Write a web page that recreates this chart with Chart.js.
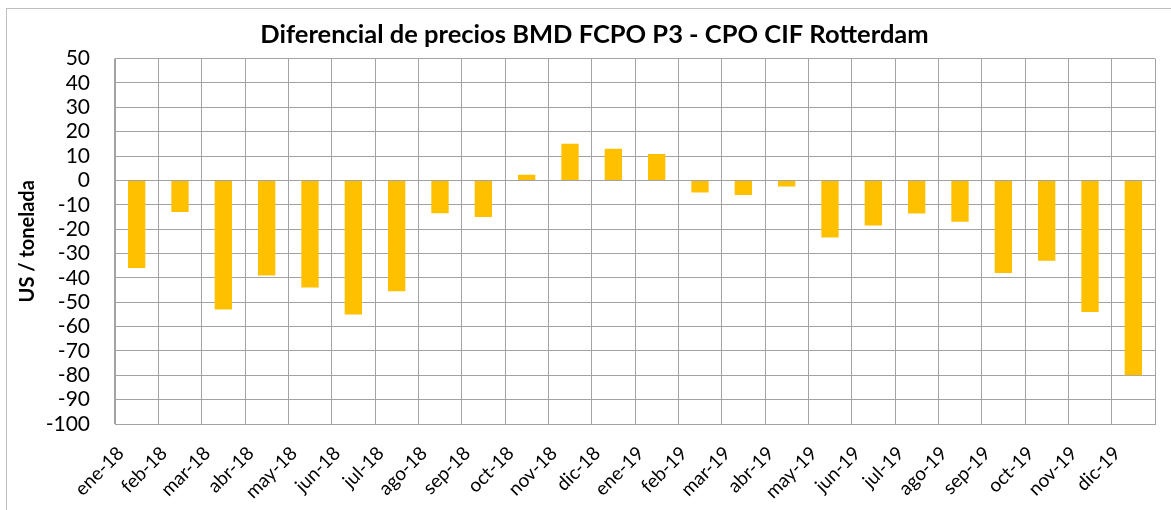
<!DOCTYPE html>
<html>
<head>
<meta charset="utf-8">
<script src="https://cdn.jsdelivr.net/npm/chart.js@4"></script>
<style>
  html, body { margin: 0; padding: 0; background: #fff; }
  #wrap { width: 1171px; height: 510px; }
</style>
</head>
<body>
<div id="wrap"><canvas id="diffChart" width="1171" height="510"></canvas></div>
<script>
const months = [
  'ene-18', 'feb-18', 'mar-18', 'abr-18', 'may-18', 'jun-18',
  'jul-18', 'ago-18', 'sep-18', 'oct-18', 'nov-18', 'dic-18',
  'ene-19', 'feb-19', 'mar-19', 'abr-19', 'may-19', 'jun-19',
  'jul-19', 'ago-19', 'sep-19', 'oct-19', 'nov-19', 'dic-19'
];
const differential = [
  -36, -13, -53, -39, -44, -55,
  -45.5, -13.5, -15, 2.3, 15, 13,
  10.8, -5, -6, -2.5, -23.4, -18.5,
  -13.6, -17, -38, -33, -54, -80
];
const yMin = -100;
const yMax = 50;
const yStep = 10;

// thin frame round the chart, like the Excel chart border
const framePlugin = {
  id: 'frame',
  beforeDraw(chart) {
    const ctx = chart.ctx;
    ctx.save();
    ctx.strokeStyle = '#bfbfbf';
    ctx.lineWidth = 1;
    ctx.strokeRect(6.5, 8.5, 1300, 700);
    ctx.restore();
  }
};

const gridColor = '#a3a3a3';

new Chart(document.getElementById('diffChart').getContext('2d'), {
  type: 'bar',
  data: {
    labels: months,
    datasets: [{
      label: 'Diferencial',
      data: differential,
      backgroundColor: '#FFC000',
      borderWidth: 0,
      barPercentage: 0.4,
      categoryPercentage: 1.0
    }]
  },
  options: {
    responsive: false,
    animation: false,
    // left padding larger so the title is centred like the original;
    // the y axis box is narrowed to keep the plot edge at the same place
    layout: { padding: { left: 34, right: 16, top: 0, bottom: 0 } },
    plugins: {
      legend: { display: false },
      tooltip: { enabled: false },
      title: {
        display: true,
        text: 'Diferencial de precios BMD FCPO P3 - CPO CIF Rotterdam',
        color: '#000',
        font: { family: 'Lato', size: 25.5, weight: 'bold', lineHeight: 1.2 },
        padding: { top: 19, bottom: 9 }
      }
    },
    scales: {
      x: {
        grid: { color: gridColor, lineWidth: 1, drawTicks: false, offset: true },
        border: { color: gridColor },
        ticks: {
          color: '#000',
          font: { family: 'Lato', size: 19 },
          maxRotation: 45,
          minRotation: 45,
          autoSkip: false,
          padding: 18,
          labelOffset: -16
        },
        afterFit(scale) { scale.height = 86; }
      },
      y: {
        min: yMin,
        max: yMax,
        grid: { color: gridColor, lineWidth: 1, drawTicks: false },
        border: { color: gridColor },
        ticks: {
          stepSize: yStep,
          autoSkip: false,
          color: '#000',
          font: { family: 'Lato', size: 21 },
          padding: 25
        },
        title: {
          display: true,
          text: 'US / tonelada',
          color: '#000',
          font: { family: 'Lato', size: 20, weight: 'bold', lineHeight: 1.2 },
          padding: { top: -18, bottom: 0 }
        },
        afterFit(scale) { scale.width = 81; }
      }
    }
  },
  plugins: [framePlugin]
});
</script>
</body>
</html>
